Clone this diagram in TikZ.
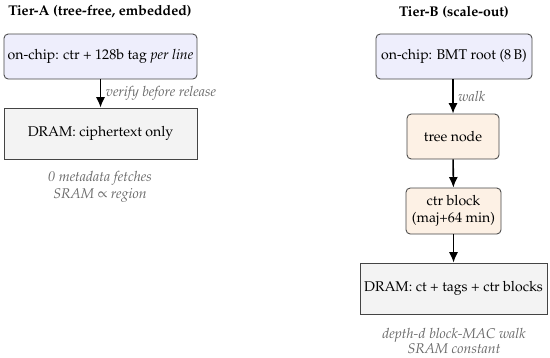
\documentclass[tikz,border=0pt]{standalone}
\usepackage[T1]{fontenc}
\usepackage{mathpazo}
\usepackage{xcolor}
\usetikzlibrary{arrows.meta}

\definecolor{chipfill}{HTML}{EEEEFC}
\definecolor{nodefill}{HTML}{FDF1E5}
\definecolor{dramfill}{HTML}{F3F3F3}
\definecolor{edgegray}{HTML}{444444}
\definecolor{notegray}{HTML}{6A6A6A}

\newdimen\pxu \pxu=0.71pt

\tikzset{
	box/.style={draw=edgegray, line width=0.6pt, inner sep=2pt, align=center},
	chipbox/.style={box, fill=chipfill, rounded corners=3pt},
	treebox/.style={box, fill=nodefill, rounded corners=3pt},
	drambox/.style={box, fill=dramfill},
	flow/.style={-{Latex[length=7.5pt,width=6.5pt]}, line width=1.1pt},
	note/.style={font=\itshape, text=notegray, align=center},
}

\begin{document}
\begin{tikzpicture}[x=\pxu, y=-\pxu]
			
			\useasboundingbox (0,0) rectangle (550,357);
			
			% Tier-A
			\node[font=\bfseries] (titleA) at (100,12) {Tier-A (tree-free, embedded)};
			\node[chipbox, minimum width=193\pxu, minimum height=45\pxu] (chipA) at (100.5,56.5)
				{on-chip: ctr + 128b tag \textit{per line}};
			\node[drambox, minimum width=193\pxu, minimum height=51\pxu] (dramA) at (100.5,133.5)
				{DRAM: ciphertext only};
			\node[note] (noteA) at (100,187) {0 metadata fetches\\ SRAM $\propto$ region};
			
			\draw[flow] (chipA) -- node[note, right] {verify before release} (dramA);
			
			% Tier-B
			\node[font=\bfseries] (titleB) at (454,12) {Tier-B (scale-out)};
			\node[chipbox, minimum width=156\pxu, minimum height=45\pxu] (rootB) at (454,56.5)
				{on-chip: BMT root (8\,B)};
			\node[treebox, minimum width=92\pxu, minimum height=45\pxu] (treeB) at (453,136.5)
				{tree node};
			\node[treebox, minimum width=95\pxu, minimum height=46\pxu] (ctrB) at (453.5,211)
				{ctr block\\(maj+64 min)};
			\node[drambox, minimum width=187\pxu, minimum height=51\pxu] (dramB) at (453.5,288.5)
				{DRAM: ct + tags + ctr blocks};
			\node[note] (noteB) at (454,341) {depth-$d$ block-MAC walk\\[-1pt] SRAM constant};
			
			\draw[flow] (rootB.south -| treeB) -- node[note, right] {walk} (treeB);
			\draw[flow] (treeB) -- (ctrB);
			\draw[flow] (ctrB) -- (dramB.north -| ctrB);
			
		\end{tikzpicture}
\end{document}
